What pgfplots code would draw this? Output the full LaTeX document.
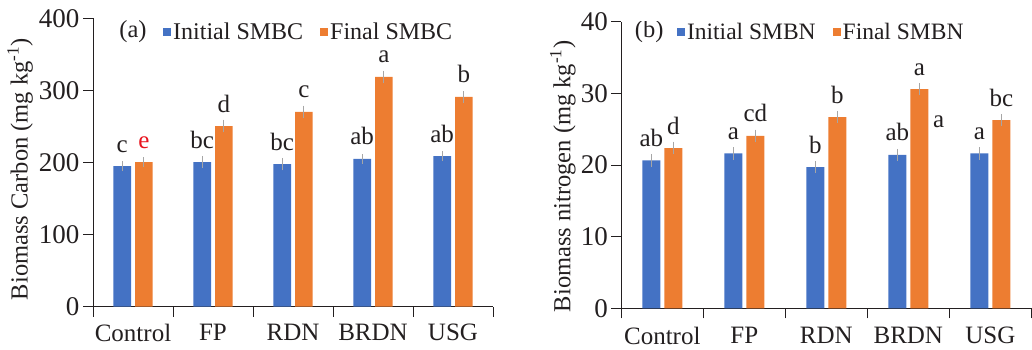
\documentclass[border=0pt]{standalone}
\usepackage{fontspec}
\setmainfont{Liberation Serif}
\usepackage{pgfplots}
\pgfplotsset{compat=1.18}
\definecolor{cBlue}{HTML}{4472C4}
\definecolor{cOrange}{HTML}{ED7D31}
\definecolor{cErr}{HTML}{A6A6A6}
\definecolor{cText}{HTML}{231F20}
\definecolor{cRed}{HTML}{E8141E}

\pgfplotstableread{
x y e l
0 195.1 2.5 c
1 200.7 4.5 bc
2 197.9 4.5 bc
3 204.9 2.5 ab
4 209.0 2.5 ab
}\cInit
\pgfplotstableread{
x y e l
0 200.7 2.5 \textcolor{cRed}{e}
1 250.6 4.8 d
2 270.1 4.8 c
3 318.6 4.8 a
4 290.9 4.0 b
}\cFinal
\pgfplotstableread{
x y e l
0 20.65 0.48 ab
1 21.63 0.45 a
2 19.72 0.45 b
3 21.40 0.45 ab
4 21.63 0.45 a
}\nInit
\pgfplotstableread{
x y e l
0 22.37 0.48 d
1 24.05 0.48 cd
2 26.70 0.45 b
3 30.60 0.45 a
4 26.28 0.45 bc
}\nFinal

\pgfplotsset{
 mystyle/.style={
  scale only axis,
  anchor=south west,
  xmin=-0.5, xmax=4.5,
  enlargelimits=false,
  axis x line=bottom, axis y line=left,
  axis line style={line width=1pt, -, cText},
  tick align=outside,
  major tick length=10pt, minor tick length=10pt,
  xtick={0,1,2,3,4},
  xticklabels={Control,FP,RDN,BRDN,USG},
  minor xtick={-0.5,0.5,1.5,2.5,3.5,4.5},
  major x tick style={draw=none},
  every tick/.append style={line width=1pt, cText},
  xticklabel style={font=\fontsize{25}{30}\selectfont, text=cText, yshift=-4pt},
  yticklabel style={font=\fontsize{27}{32}\selectfont, text=cText},
  /pgf/number format/assume math mode=true,
  label style={font=\fontsize{24.5}{29}\selectfont, text=cText},
  ybar=4pt,
  nodes near coords,
  point meta=explicit symbolic,
  nodes near coords style={font=\fontsize{25}{30}\selectfont, text=cText, anchor=base, yshift=14pt},
  legend style={draw=none, fill=none, font=\fontsize{24}{29}\selectfont, text=cText, legend columns=2, anchor=west, inner sep=0pt, /tikz/every even column/.append style={column sep=15pt}},
 },
 errsty/.style={error bars/.cd, y dir=both, y explicit,
   error bar style={cErr, line width=1pt},
   error mark options={cErr, line width=1pt, mark size=3pt}},
 legsq/.style={legend image code/.code={\fill[##1, draw=none] (0pt,-4pt) rectangle (8pt,4pt);}},
}

\begin{document}
\begin{tikzpicture}
\useasboundingbox (0,0) rectangle (1032pt,-349pt);
\begin{axis}[mystyle, at={(93pt,-306.7pt)}, width=400pt, height=288.4pt,
  ymin=0, ymax=400, ytick={0,100,200,300,400}, bar width=17.7pt,
  ylabel={Biomass Carbon (mg kg\textsuperscript{-1})},
  ylabel style={at={(axis description cs:-0.1825,0.477)}, anchor=center},
  legend style={at={(axis description cs:0.175,0.9525)}}]
\addplot[fill=cBlue, draw=none, legsq, errsty] table[x=x, y=y, y error=e, meta=l] {\cInit};
\addplot[fill=cOrange, draw=none, legsq, errsty] table[x=x, y=y, y error=e, meta=l] {\cFinal};
\legend{Initial SMBC, Final SMBC}
\node[font=\fontsize{24.5}{29}\selectfont, text=cText] at (axis description cs:0.1,0.9525) {(a)};
\end{axis}
\begin{axis}[mystyle, at={(621.3pt,-308.3pt)}, width=410pt, height=286.6pt,
  ymin=0, ymax=40, ytick={0,10,20,30,40}, bar width=18pt,
  ylabel={Biomass nitrogen (mg kg\textsuperscript{-1})},
  ylabel style={at={(axis description cs:-0.1427,0.46)}, anchor=center},
  xticklabel style={yshift=-1pt},
  legend style={at={(axis description cs:0.1356,0.964)}, font=\fontsize{23.5}{28}\selectfont}]
\addplot[fill=cBlue, draw=none, legsq, errsty] table[x=x, y=y, y error=e, meta=l] {\nInit};
\addplot[fill=cOrange, draw=none, legsq, errsty] table[x=x, y=y, y error=e, meta=l] {\nFinal};
\legend{Initial SMBN, Final SMBN}
\node[font=\fontsize{24.5}{29}\selectfont, text=cText] at (axis description cs:0.068,0.964) {(b)};
\node[font=\fontsize{25}{30}\selectfont, text=cText] at (axis cs:3.37,26.1) {a};
\end{axis}
\end{tikzpicture}
\end{document}
